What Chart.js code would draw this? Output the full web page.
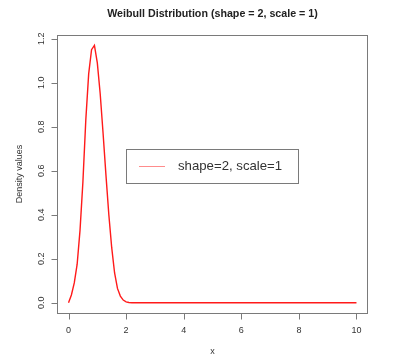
<!DOCTYPE html>
<html>
<head>
<meta charset="utf-8">
<script src="https://cdn.jsdelivr.net/npm/chart.js@4/dist/chart.umd.min.js"></script>
<style>
  html, body { margin: 0; padding: 0; background: #fff; }
  #wrap { width: 402px; height: 362px; }
</style>
</head>
<body>
<div id="wrap"><canvas id="myChart" width="402" height="362"></canvas></div>
<script>
// values
const xValues = [0, 0.1, 0.2, 0.3, 0.4, 0.5, 0.6, 0.7, 0.8, 0.9,
  1.0, 1.1, 1.2, 1.3, 1.4, 1.5, 1.6, 1.7, 1.8, 1.9,
  2.0, 2.1, 2.2, 2.3, 2.5, 3, 4, 5, 6, 7, 8, 9, 10];
const densityValues = [0, 0.035, 0.09, 0.175, 0.33, 0.55, 0.83, 1.04, 1.15, 1.17,
  1.09, 0.95, 0.77, 0.58, 0.40, 0.25, 0.135, 0.065, 0.03, 0.012,
  0.004, 0.001, 0, 0, 0, 0, 0, 0, 0, 0, 0, 0, 0];
const xTicks = [0, 2, 4, 6, 8, 10];
const yTicks = [0, 0.2, 0.4, 0.6, 0.8, 1.0, 1.2];
const yTickLabels = ["0.0", "0.2", "0.4", "0.6", "0.8", "1.0", "1.2"];
const titleText = "Weibull Distribution (shape = 2, scale = 1)";
const xTitle = "x";
const yTitle = "Density values";
const legendLabel = "shape=2, scale=1";

const ctx = document.querySelector("#myChart").getContext("2d");
const FONT = "'Liberation Sans', Arial, sans-serif";

// draws the R style frame, axes, labels and legend
const rFrame = {
  id: "rFrame",
  afterDraw(chart) {
    const c = chart.ctx;
    const area = chart.chartArea;
    const xs = chart.scales.x;
    const ys = chart.scales.y;
    c.save();

    // box
    c.strokeStyle = "#7a7a7a";
    c.lineWidth = 1;
    c.strokeRect(area.left + 0.5, area.top + 0.5, area.right - area.left - 1, area.bottom - area.top);

    // x axis
    c.beginPath();
    const xb = Math.round(area.bottom) + 0.5;
    c.moveTo(Math.round(xs.getPixelForValue(xTicks[0])) + 0.5, xb);
    c.lineTo(Math.round(xs.getPixelForValue(xTicks[xTicks.length - 1])) + 0.5, xb);
    for (const t of xTicks) {
      const px = Math.round(xs.getPixelForValue(t)) + 0.5;
      c.moveTo(px, xb);
      c.lineTo(px, xb + 6);
    }
    // y axis
    const yl = Math.round(area.left) + 0.5;
    c.moveTo(yl, Math.round(ys.getPixelForValue(yTicks[0])) + 0.5);
    c.lineTo(yl, Math.round(ys.getPixelForValue(yTicks[yTicks.length - 1])) + 0.5);
    for (const t of yTicks) {
      const py = Math.round(ys.getPixelForValue(t)) + 0.5;
      c.moveTo(yl, py);
      c.lineTo(yl - 6, py);
    }
    c.stroke();

    c.fillStyle = "#333";
    c.font = "9px " + FONT;
    c.textAlign = "center";
    c.textBaseline = "middle";
    for (const t of xTicks) {
      c.fillText(String(t), xs.getPixelForValue(t), 331);
    }
    yTicks.forEach((t, i) => {
      c.save();
      c.translate(42, ys.getPixelForValue(t));
      c.rotate(-Math.PI / 2);
      c.fillText(yTickLabels[i], 0, 0);
      c.restore();
    });

    // axis titles
    const midX = (area.left + area.right) / 2;
    const midY = (area.top + area.bottom) / 2;
    c.fillText(xTitle, midX, 352);
    c.save();
    c.translate(20, midY);
    c.rotate(-Math.PI / 2);
    c.fillText(yTitle, 0, 0);
    c.restore();

    // main title
    c.fillStyle = "#222";
    c.font = "bold 10.7px " + FONT;
    c.fillText(titleText, midX, 14);

    // legend
    c.strokeStyle = "#7a7a7a";
    c.strokeRect(126.5, 149.5, 172, 34);
    c.strokeStyle = "#ff8c8c";
    c.beginPath();
    c.moveTo(139, 166.5);
    c.lineTo(165, 166.5);
    c.stroke();
    c.fillStyle = "#333";
    c.font = "13.2px " + FONT;
    c.textAlign = "left";
    c.fillText(legendLabel, 178, 166.5);

    c.restore();
  },
};

const lineChart = {
  type: "line",
  data: {
    datasets: [
      {
        label: legendLabel,
        data: xValues.map((x, i) => ({ x: x, y: densityValues[i] })),
        borderColor: "#ff1a1a",
        borderWidth: 1.4,
        pointRadius: 0,
        tension: 0,
        fill: false,
      },
    ],
  },
  options: {
    responsive: false,
    animation: false,
    layout: { padding: { left: 57, right: 34, top: 35, bottom: 49 } },
    plugins: {
      legend: { display: false },
      title: { display: false },
      tooltip: { enabled: false },
    },
    scales: {
      x: { type: "linear", min: -0.4, max: 10.4, display: false },
      y: { type: "linear", min: -0.0468, max: 1.2168, display: false },
    },
  },
  plugins: [rFrame],
};

new Chart(ctx, lineChart);
</script>
</body>
</html>
